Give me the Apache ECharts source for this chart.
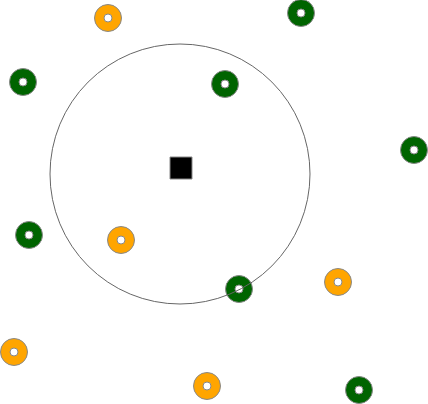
<!DOCTYPE html>
<html>
<head>
<meta charset="utf-8">
<script src="https://cdn.jsdelivr.net/npm/echarts@6/dist/echarts.min.js"></script>
<style>
html,body{margin:0;padding:0;background:#fff;}
#chart{width:428px;height:404px;}
</style>
</head>
<body>
<div id="chart"></div>
<script>
// Data (positions in plot units; y grows downward)
var orangeX = [108, 121, 338, 14, 207];
var orangeY = [18, 240, 282, 352, 386];
var greenX = [301, 23, 225, 414, 29, 239, 359];
var greenY = [13, 82, 84, 150, 235, 289, 390];
var centerX = [181];
var centerY = [168];
var ringX = [180];
var ringY = [174];

function pts(xs, ys) { return xs.map(function (x, i) { return [x, ys[i]]; }); }

var chart = echarts.init(document.getElementById('chart'));
var outerSize = 27, holeSize = 8;
chart.setOption({
  animation: false,
  grid: { left: 0, right: 0, top: 0, bottom: 0 },
  xAxis: { type: 'value', min: 0, max: 428, show: false },
  yAxis: { type: 'value', min: 0, max: 404, inverse: true, show: false },
  series: [
    { type: 'scatter', data: pts(orangeX, orangeY), symbol: 'circle', symbolSize: outerSize,
      itemStyle: { color: '#FFA500', borderColor: '#888', borderWidth: 1, opacity: 1 } },
    { type: 'scatter', data: pts(orangeX, orangeY), symbol: 'circle', symbolSize: holeSize,
      itemStyle: { color: '#fff', borderColor: '#888', borderWidth: 1, opacity: 1 } },
    { type: 'scatter', data: pts(greenX, greenY), symbol: 'circle', symbolSize: outerSize,
      itemStyle: { color: '#006400', borderColor: '#888', borderWidth: 1, opacity: 1 } },
    { type: 'scatter', data: pts(greenX, greenY), symbol: 'circle', symbolSize: holeSize,
      itemStyle: { color: '#fff', borderColor: '#888', borderWidth: 1, opacity: 1 } },
    { type: 'scatter', data: pts(centerX, centerY), symbol: 'rect', symbolSize: 22,
      itemStyle: { color: '#000', borderColor: '#888', borderWidth: 1, opacity: 1 } },
    { type: 'scatter', data: pts(ringX, ringY), symbol: 'circle', symbolSize: 260, silent: true,
      itemStyle: { color: 'rgba(0,0,0,0)', borderColor: '#666', borderWidth: 1, opacity: 1 } }
  ]
});
</script>
</body>
</html>
